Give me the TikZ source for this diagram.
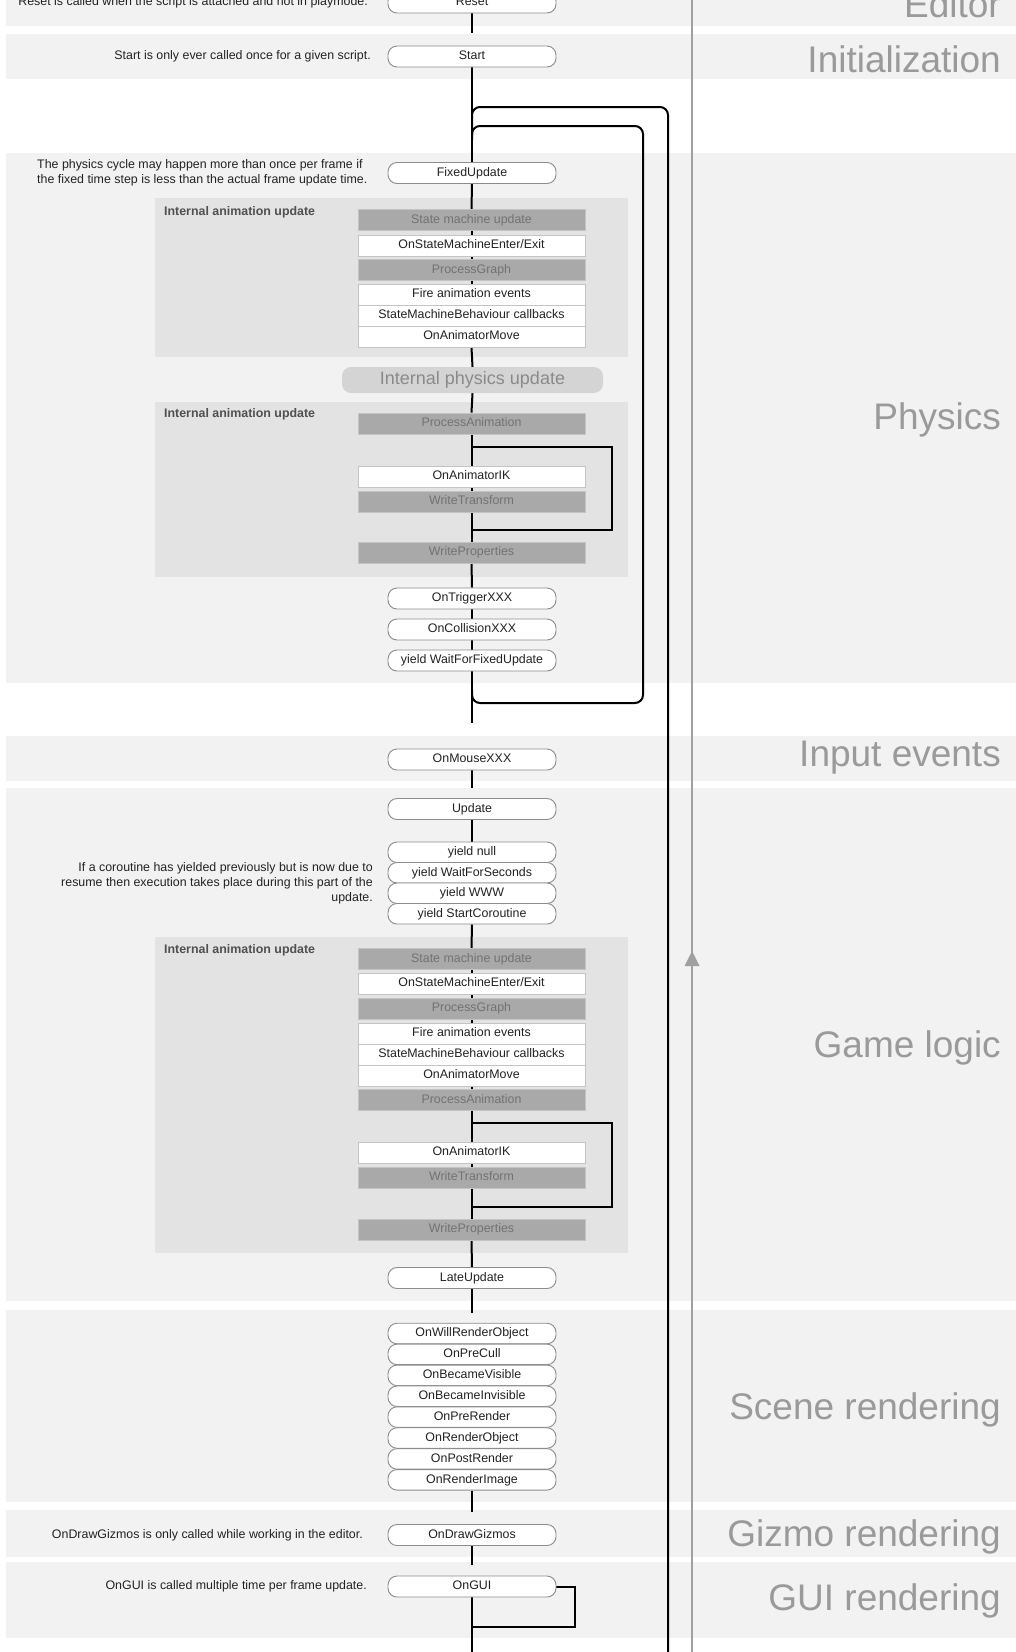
\documentclass[tikz,border=0pt]{standalone}
\usepackage{fontspec}
\setmainfont{Liberation Sans}
\usetikzlibrary{calc}
\definecolor{bandgray}{HTML}{F2F2F2}
\definecolor{boxgray}{HTML}{E3E3E3}
\definecolor{pillgray}{HTML}{D4D4D4}
\definecolor{pilltext}{HTML}{8A8A8A}
\definecolor{stepfill}{HTML}{A9A9A9}
\definecolor{steptext}{HTML}{727272}
\definecolor{stepborder}{HTML}{C4C4C4}
\definecolor{evtborder}{HTML}{8C8C8C}
\definecolor{labelgray}{HTML}{9A9A9A}
\definecolor{linegray}{HTML}{A0A0A0}
\definecolor{darktext}{HTML}{222222}
\definecolor{headtext}{HTML}{505050}
\newcommand\fNode{\fontsize{12.4}{15}\selectfont}
\newcommand\fBig{\fontsize{37}{40}\selectfont}
\newcommand\fPill{\fontsize{18}{20}\selectfont}
\pgfdeclarelayer{back}
\pgfdeclarelayer{mid}
\pgfsetlayers{back,mid,main}
\begin{document}
\begin{tikzpicture}[x=1pt,y=-1pt,
  evt/.style={draw=evtborder,line width=0.9pt,fill=white,rounded corners=9pt,minimum width=168pt,minimum height=21pt,inner sep=0pt,text height=9.2pt,text depth=2.6pt,font=\fNode,text=darktext},
  evts/.style={evt,minimum height=20.5pt},
  stepw/.style={draw=stepborder,line width=0.8pt,fill=white,minimum width=227pt,minimum height=21pt,inner sep=0pt,text height=9.2pt,text depth=2.6pt,font=\fNode,text=darktext},
  stepg/.style={stepw,fill=stepfill,text=steptext},
  pill/.style={fill=pillgray,draw=none,rounded corners=9pt,minimum width=261pt,minimum height=26pt,inner sep=0pt,font=\fPill,text=pilltext},
  flow/.style={line width=2pt,black},
  biglbl/.style={font=\fBig,text=labelgray,anchor=base east,inner sep=0pt},
  note/.style={font=\fNode,text=darktext,inner sep=0pt},
  animhead/.style={font=\fNode\bfseries,text=headtext,anchor=west,inner sep=0pt},
  band/.style={fill=bandgray},
  animbox/.style={fill=boxgray}
]
\useasboundingbox (0,0) rectangle (1016,1652);

\begin{pgfonlayer}{back}
  \fill[white] (0,0) rectangle (1016,1652);
  % bands
  \fill[band] (6,-10) rectangle (1016,26);
  \fill[band] (6,34) rectangle (1016,79);
  \fill[band] (6,153) rectangle (1016,683);
  \fill[band] (6,736) rectangle (1016,781);
  \fill[band] (6,788) rectangle (1016,1301);
  \fill[band] (6,1310) rectangle (1016,1502);
  \fill[band] (6,1510) rectangle (1016,1557);
  \fill[band] (6,1562) rectangle (1016,1638);
  % internal animation update containers
  \fill[animbox] (155,198) rectangle (628,357);
  \fill[animbox] (155,402) rectangle (628,577);
  \fill[animbox] (155,937) rectangle (628,1253);
\end{pgfonlayer}

% section labels
\node[biglbl] (lEditor) at (1001,17) {Editor};
\node[biglbl] (lInit) at (1001,72) {Initialization};
\node[biglbl] (lPhys) at (1001,429) {Physics};
\node[biglbl] (lInput) at (1001,766) {Input events};
\node[biglbl] (lGame) at (1001,1057) {Game logic};
\node[biglbl] (lScene) at (1001,1419) {Scene rendering};
\node[biglbl] (lGizmo) at (1001,1546) {Gizmo rendering};
\node[biglbl] (lGUI) at (1001,1610) {GUI rendering};

% notes
\node[note,anchor=east] (nReset) at (368,2.5) {Reset is called when the script is attached and not in playmode.};
\node[note,anchor=east] (nStart) at (371,56.5) {Start is only ever called once for a given script.};
\node[note,anchor=west,align=left] (nPhys) at (37,173) {The physics cycle may happen more than once per frame if\\the fixed time step is less than the actual frame update time.};
\node[note,anchor=east,align=right] (nCor) at (373,883) {If a coroutine has yielded previously but is now due to\\resume then execution takes place during this part of the\\update.};
\node[note,anchor=east] (nGizmo) at (363,1535) {OnDrawGizmos is only called while working in the editor.};
\node[note,anchor=east] (nGUI) at (367,1586.5) {OnGUI is called multiple time per frame update.};

% headings of containers
\node[animhead] (h1) at (164,212) {Internal animation update};
\node[animhead] (h2) at (164,414) {Internal animation update};
\node[animhead] (h3) at (164,950) {Internal animation update};

% editor / init
\node[evt] (reset) at (472,2.5) {Reset};
\node[evt] (start) at (472,56.5) {Start};
\coordinate (gInit) at (472,33);

% physics
\node[evt] (fixed) at (472,173) {FixedUpdate};
\node[stepg] (sm1) at (471.5,220) {State machine update};
\node[stepw] (ose1) at (471.5,245.5) {OnStateMachineEnter/Exit};
\node[stepg] (pg1) at (471.5,270) {ProcessGraph};
\node[stepw] (fae1) at (471.5,294.5) {Fire animation events};
\node[stepw] (smb1) at (471.5,315.5) {StateMachineBehaviour callbacks};
\node[stepw] (oam1) at (471.5,336.5) {OnAnimatorMove};
\node[pill] (phys) at (472.5,380) {Internal physics update};
\node[stepg] (pa1) at (471.5,423.5) {ProcessAnimation};
\node[stepw] (oik1) at (471.5,476.5) {OnAnimatorIK};
\node[stepg] (wt1) at (471.5,501.5) {WriteTransform};
\node[stepg] (wp1) at (471.5,552.5) {WriteProperties};
\node[evt] (trig) at (472,598.5) {OnTriggerXXX};
\node[evt] (coll) at (472,629.5) {OnCollisionXXX};
\node[evt] (wffu) at (472,660.5) {yield WaitForFixedUpdate};
\coordinate (gPhys) at (472,723);

% input
\node[evt] (mouse) at (472,759.5) {OnMouseXXX};
\coordinate (gInput) at (472,788);

% game logic
\node[evt] (update) at (472,809) {Update};
\node[evts] (y1) at (472,852.25) {yield null};
\node[evts] (y2) at (472,872.75) {yield WaitForSeconds};
\node[evts] (y3) at (472,893.25) {yield WWW};
\node[evts] (y4) at (472,913.75) {yield StartCoroutine};
\node[stepg] (sm3) at (471.5,959) {State machine update};
\node[stepw] (ose3) at (471.5,983.5) {OnStateMachineEnter/Exit};
\node[stepg] (pg3) at (471.5,1008.5) {ProcessGraph};
\node[stepw] (fae3) at (471.5,1033.5) {Fire animation events};
\node[stepw] (smb3) at (471.5,1054.5) {StateMachineBehaviour callbacks};
\node[stepw] (oam3) at (471.5,1075.5) {OnAnimatorMove};
\node[stepg] (pa3) at (471.5,1100) {ProcessAnimation};
\node[stepw] (oik3) at (471.5,1152.5) {OnAnimatorIK};
\node[stepg] (wt3) at (471.5,1177.5) {WriteTransform};
\node[stepg] (wp3) at (471.5,1229.5) {WriteProperties};
\node[evt] (late) at (472,1278) {LateUpdate};
\coordinate (gGame) at (472,1313);

% scene rendering
\node[evts] (r1) at (472,1333.5) {OnWillRenderObject};
\node[evts] (r2) at (472,1354.4) {OnPreCull};
\node[evts] (r3) at (472,1375.3) {OnBecameVisible};
\node[evts] (r4) at (472,1396.2) {OnBecameInvisible};
\node[evts] (r5) at (472,1417.1) {OnPreRender};
\node[evts] (r6) at (472,1438.0) {OnRenderObject};
\node[evts] (r7) at (472,1458.9) {OnPostRender};
\node[evts] (r8) at (472,1479.8) {OnRenderImage};
\coordinate (gScene) at (472,1512);

% gizmo / gui
\node[evt] (gizmo) at (472,1535) {OnDrawGizmos};
\coordinate (gGizmo) at (472,1565);
\node[evt] (gui) at (472,1586.5) {OnGUI};
\coordinate (gEnd) at (472,1660);

% loop coordinates
\coordinate (oA) at (668,1660);
\coordinate (oB) at (668,107);
\coordinate (oC) at (472,107);
\coordinate (oD) at (472,135);
\coordinate (iA) at (472,690);
\coordinate (iB) at (472,703);
\coordinate (iC) at (643,703);
\coordinate (iD) at (643,126);
\coordinate (iE) at (472,126);
\coordinate (iF) at (472,140);
\coordinate (k1a) at (472,447);
\coordinate (k1b) at (612,447);
\coordinate (k1c) at (612,530);
\coordinate (k1d) at (472,530);
\coordinate (k3a) at (472,1123);
\coordinate (k3b) at (612,1123);
\coordinate (k3c) at (612,1207);
\coordinate (k3d) at (472,1207);
\coordinate (gA) at (575,1586.5);
\coordinate (gB) at (575,1627);
\coordinate (gC) at (472,1627);
\coordinate (vTop) at (692,-5);
\coordinate (vBot) at (692,1660);

\begin{pgfonlayer}{mid}
  % gray frame line with arrow
  \draw[line width=2pt,linegray] (vTop) -- (vBot);
  \fill[linegray] (692,951) -- (699.5,966) -- (684.5,966) -- cycle;
  % outer frame loop and physics loop
  \draw[flow,rounded corners=8pt] (oA) -- (oB) -- (oC) -- (oD);
  \draw[flow,rounded corners=8pt] (iA) -- (iB) -- (iC) -- (iD) -- (iE) -- (iF);
  % IK loops
  \draw[flow] (k1a) -- (k1b) -- (k1c) -- (k1d);
  \draw[flow] (k3a) -- (k3b) -- (k3c) -- (k3d);
  % GUI loop
  \draw[flow] (gui.east) -- (gA) -- (gB) -- (gC);
  % main flow
  \draw[flow] (reset.south) -- (gInit);
  \draw[flow] (start.south) -- (fixed.north);
  \draw[flow] (fixed.south) -- (sm1.north);
  \draw[flow] (sm1.south) -- (ose1.north);
  \draw[flow] (ose1.south) -- (pg1.north);
  \draw[flow] (pg1.south) -- (fae1.north);
  \draw[flow] (oam1.south) -- (phys.north);
  \draw[flow] (phys.south) -- (pa1.north);
  \draw[flow] (pa1.south) -- (oik1.north);
  \draw[flow] (oik1.south) -- (wt1.north);
  \draw[flow] (wt1.south) -- (wp1.north);
  \draw[flow] (wp1.south) -- (trig.north);
  \draw[flow] (trig.south) -- (coll.north);
  \draw[flow] (coll.south) -- (wffu.north);
  \draw[flow] (wffu.south) -- (gPhys);
  \draw[flow] (mouse.south) -- (gInput);
  \draw[flow] (update.south) -- (y1.north);
  \draw[flow] (y4.south) -- (sm3.north);
  \draw[flow] (sm3.south) -- (ose3.north);
  \draw[flow] (ose3.south) -- (pg3.north);
  \draw[flow] (pg3.south) -- (fae3.north);
  \draw[flow] (oam3.south) -- (pa3.north);
  \draw[flow] (pa3.south) -- (oik3.north);
  \draw[flow] (oik3.south) -- (wt3.north);
  \draw[flow] (wt3.south) -- (wp3.north);
  \draw[flow] (wp3.south) -- (late.north);
  \draw[flow] (late.south) -- (gGame);
  \draw[flow] (r8.south) -- (gScene);
  \draw[flow] (gizmo.south) -- (gGizmo);
  \draw[flow] (gui.south) -- (gEnd);
\end{pgfonlayer}
\end{tikzpicture}
\end{document}
